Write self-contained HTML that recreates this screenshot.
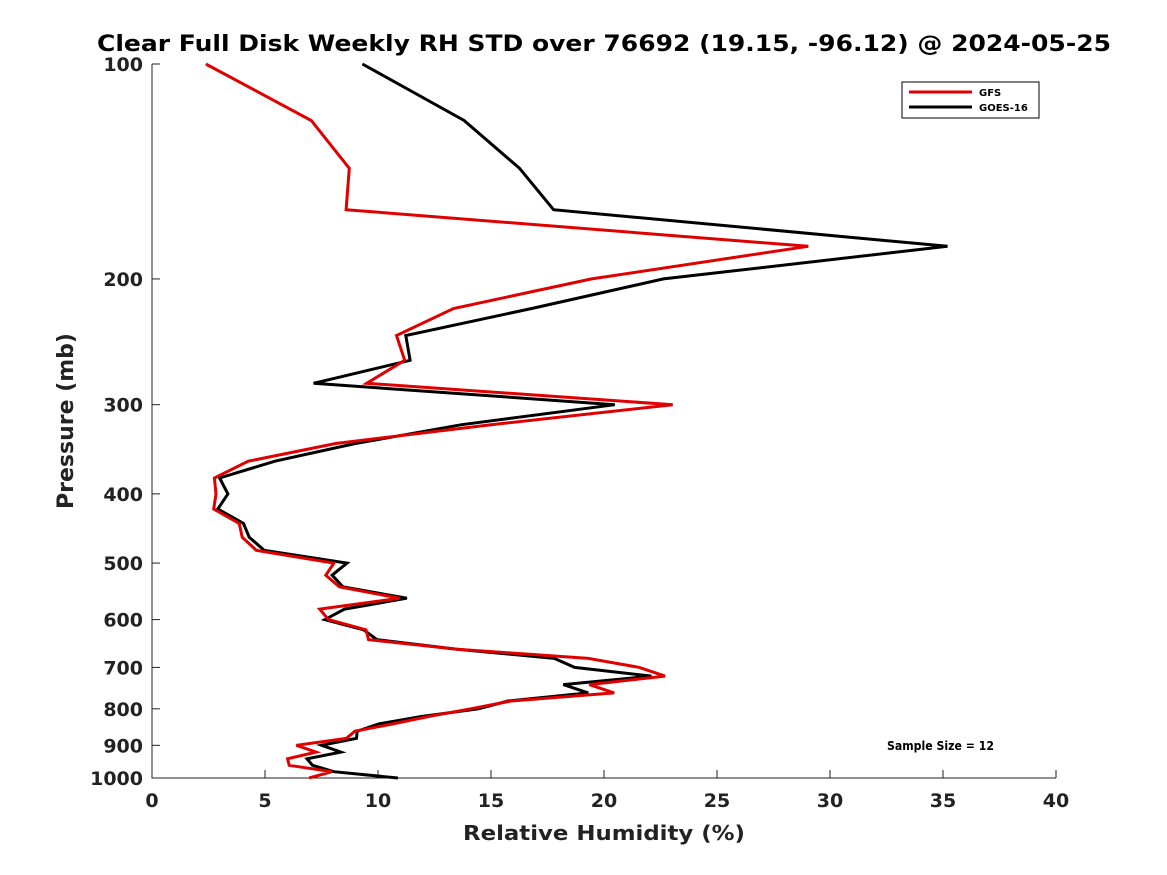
<!DOCTYPE html>
<html><head><meta charset="utf-8"><style>
html,body{margin:0;padding:0;background:#fff;}
svg{display:block;font-family:"DejaVu Sans","Liberation Sans",sans-serif;}
</style></head><body>
<svg id="chart" width="1167" height="875" viewBox="0 0 1167 875">
<rect x="0" y="0" width="1167" height="875" fill="#fff"/>
<text x="97" y="51" font-size="22" font-weight="bold" fill="#000" textLength="1014" lengthAdjust="spacingAndGlyphs">Clear Full Disk Weekly RH STD over 76692 (19.15, -96.12) @ 2024-05-25</text>
<g id="axes"></g>
<g id="series"></g>
<text x="463" y="840" font-size="20" font-weight="bold" fill="#222" textLength="282" lengthAdjust="spacingAndGlyphs">Relative Humidity (%)</text>
<text transform="translate(73,421) rotate(-90)" text-anchor="middle" font-size="22" font-weight="bold" fill="#222">Pressure (mb)</text>
<g>
<rect x="902" y="82" width="137" height="36" fill="#fff" stroke="#000" stroke-width="1"/>
<line x1="909" y1="92" x2="972" y2="92" stroke="#e00000" stroke-width="3"/>
<text x="979" y="96" font-size="10" font-weight="bold">GFS</text>
<line x1="909" y1="107" x2="972" y2="107" stroke="#000" stroke-width="3"/>
<text x="979" y="111" font-size="10" font-weight="bold">GOES-16</text>
</g>
<text x="887" y="750" font-size="12" font-weight="bold" textLength="107" lengthAdjust="spacingAndGlyphs">Sample Size = 12</text>
</svg>
<script>
const pressures = [100,120,140,160,180,200,220,240,260,280,300,320,340,360,380,400,420,440,460,480,500,520,540,560,580,600,620,640,660,680,700,720,740,760,780,800,820,840,860,880,900,920,940,960,980,1000];
const gfsValues = [2.38,7.05,8.73,8.59,29.04,19.45,13.34,10.82,11.18,9.5,23.04,15.0,8.13,4.26,2.76,2.83,2.73,3.86,3.99,4.62,8.05,7.69,8.29,10.97,7.42,7.81,9.47,9.58,13.5,19.3,21.56,22.7,19.35,20.45,15.9,14.1,12.24,10.66,8.98,8.6,6.39,7.26,6.0,6.07,7.96,6.95];
const goesValues = [9.31,13.81,16.26,17.77,35.2,22.63,16.8,11.23,11.42,7.15,20.48,13.7,9.0,5.44,2.99,3.36,2.91,4.05,4.3,4.97,8.63,7.97,8.45,11.28,8.52,7.65,9.36,9.95,13.5,17.8,18.7,22.1,18.2,19.3,15.75,14.45,11.92,10.03,9.08,9.05,7.5,8.36,6.86,7.1,8.05,10.88];
const xTicks = [0,5,10,15,20,25,30,35,40];
const yTicks = [100,200,300,400,500,600,700,800,900,1000];

const X0=152,X1=1056,Y0=64,Y1=778;
function xs(v){return X0+(v-0)/40*(X1-X0);}
function ys(p){return Y0+Math.log10(p/100)*(Y1-Y0);}
const NS="http://www.w3.org/2000/svg";
const axes=document.getElementById('axes');
function mk(tag,attrs,parent){const e=document.createElementNS(NS,tag);for(const k in attrs)e.setAttribute(k,attrs[k]);parent.appendChild(e);return e;}
const ax=mk('path',{d:`M${X0},${Y0} L${X0},${Y1} L${X1},${Y1}`,fill:'none',stroke:'#222','stroke-width':1},axes);


xTicks.forEach(t=>{
  const x=xs(t);
  mk('line',{x1:x,y1:Y1,x2:x,y2:Y1-8,stroke:'#222'},axes);
  const tx=mk('text',{x:x,y:Y1+29,'text-anchor':'middle','font-size':19,'font-weight':'bold',fill:'#222'},axes);
  tx.textContent=t;
  
  
});
yTicks.forEach(t=>{
  const y=ys(t);
  mk('line',{x1:X0,y1:y,x2:X0+8,y2:y,stroke:'#222'},axes);
  const tx=mk('text',{x:X0-9,y:y+7,'text-anchor':'end','font-size':19,'font-weight':'bold',fill:'#222'},axes);
  tx.textContent=t;
  
  
});
const series=document.getElementById('series');
function line(vals,color,name){
  const d=vals.map((v,i)=>(i?'L':'M')+xs(v).toFixed(1)+','+ys(pressures[i]).toFixed(1)).join(' ');
  const p=mk('path',{d:d,fill:'none',stroke:color,'stroke-width':3,'stroke-linejoin':'miter'},series);
  
  
}
line(goesValues,'#000','goes16-line');
line(gfsValues,'#e00000','gfs-line');
</script>
</body></html>
